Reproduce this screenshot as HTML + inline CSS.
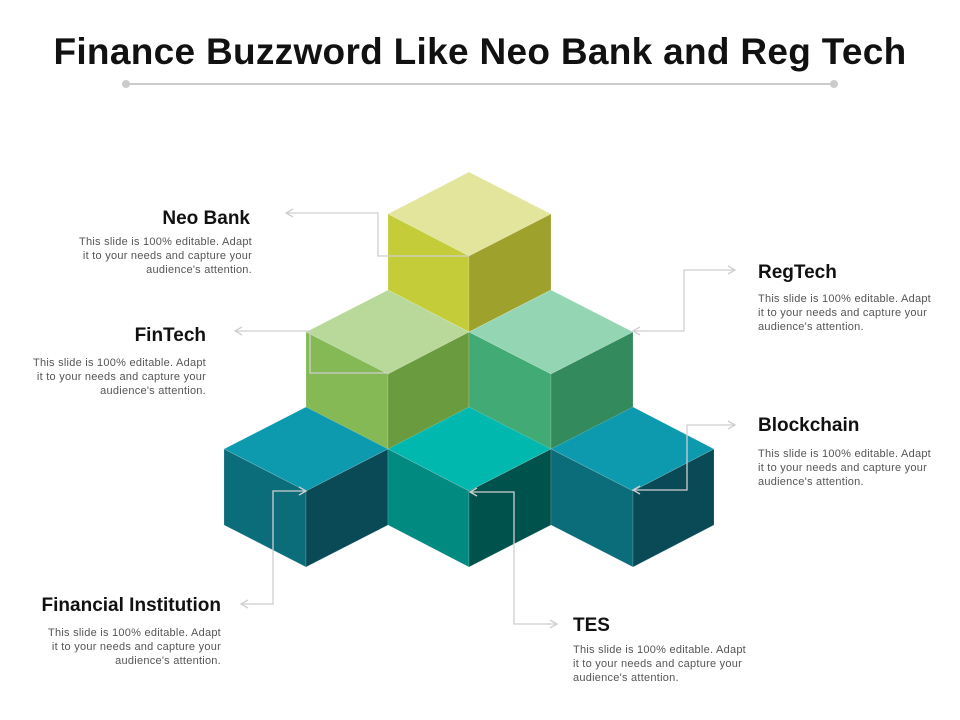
<!DOCTYPE html>
<html><head><meta charset="utf-8"><style>
body{margin:0;width:960px;height:720px;background:#fff;overflow:hidden;position:relative;font-family:"Liberation Sans",Arial,sans-serif}
h1{position:absolute;left:0;top:31px;width:960px;margin:0;text-align:center;font-size:37px;font-weight:bold;color:#111;letter-spacing:0.3px}
.t{position:absolute;font-weight:bold;font-size:19px;color:#111}
.d{position:absolute;font-size:11px;line-height:14px;color:#555;width:182px;letter-spacing:0.25px}
.r{text-align:right}
</style></head><body>
<h1>Finance Buzzword Like Neo Bank and Reg Tech</h1>
<svg width="960" height="720" style="position:absolute;left:0;top:0">
<line x1="126" y1="84" x2="834" y2="84" stroke="#ccc" stroke-width="2"/>
<circle cx="126" cy="84" r="4" fill="#ccc"/><circle cx="834" cy="84" r="4" fill="#ccc"/>
<g stroke="#ffffff" stroke-opacity="0.25" stroke-width="0.6">
<polygon points="469,172 551,214 469,256 388,214" fill="#e3e59c"/>
<polygon points="388,214 469,256 469,332 388,290" fill="#c5cc3a"/>
<polygon points="551,214 469,256 469,332 551,290" fill="#9ea22c"/>
<polygon points="388,290 469,332 388,374 306,332" fill="#b8d99a"/>
<polygon points="306,332 388,374 388,450 306,408" fill="#85b955"/>
<polygon points="469,332 388,374 388,450 469,408" fill="#6a9c3f"/>
<polygon points="551,290 633,332 551,374 469,332" fill="#94d5b4"/>
<polygon points="469,332 551,374 551,450 469,408" fill="#42aa74"/>
<polygon points="633,332 551,374 551,450 633,408" fill="#338a5c"/>
<polygon points="306,407 388,449 306,491 224,449" fill="#0e9aae"/>
<polygon points="224,449 306,491 306,567 224,525" fill="#0b6c7a"/>
<polygon points="388,449 306,491 306,567 388,525" fill="#0a4a56"/>
<polygon points="469,407 551,449 469,491 388,449" fill="#00b8ad"/>
<polygon points="388,449 469,491 469,567 388,525" fill="#008a80"/>
<polygon points="551,449 469,491 469,567 551,525" fill="#00534c"/>
<polygon points="633,407 714,449 633,491 551,449" fill="#0e9aae"/>
<polygon points="551,449 633,491 633,567 551,525" fill="#0b6c7a"/>
<polygon points="714,449 633,491 633,567 714,525" fill="#0a4a56"/>
</g>
<g fill="none" stroke="#cfcfcf" stroke-width="1.3">
<polyline points="286,213 378,213 378,256 469,256"/><polyline points="293,209 286,213 293,217"/>
<polyline points="235,331 310,331 310,373 388,373"/><polyline points="242,327 235,331 242,335"/>
<polyline points="735,270 684,270 684,331 633,331"/><polyline points="728,266 735,270 728,274"/><polyline points="640,327 633,331 640,335"/>
<polyline points="735,425 687,425 687,490 633,490"/><polyline points="728,421 735,425 728,429"/><polyline points="640,486 633,490 640,494"/>
<polyline points="241,604 273,604 273,491 306,491"/><polyline points="248,600 241,604 248,608"/><polyline points="299,487 306,491 299,495"/>
<polyline points="557,624 514,624 514,492 470,492"/><polyline points="550,620 557,624 550,628"/><polyline points="477,488 470,492 477,496"/>
</g>
</svg>
<div class="t r" style="right:710px;top:208px">Neo Bank</div>
<div class="d r" style="right:708px;top:235px">This slide is 100% editable. Adapt it to your needs and capture your audience's attention.</div>
<div class="t r" style="right:754px;top:325px">FinTech</div>
<div class="d r" style="right:754px;top:356px">This slide is 100% editable. Adapt it to your needs and capture your audience's attention.</div>
<div class="t" style="left:758px;top:262px">RegTech</div>
<div class="d" style="left:758px;top:292px">This slide is 100% editable. Adapt it to your needs and capture your audience's attention.</div>
<div class="t" style="left:758px;top:415px">Blockchain</div>
<div class="d" style="left:758px;top:447px">This slide is 100% editable. Adapt it to your needs and capture your audience's attention.</div>
<div class="t r" style="right:739px;top:595px">Financial Institution</div>
<div class="d r" style="right:739px;top:626px">This slide is 100% editable. Adapt it to your needs and capture your audience's attention.</div>
<div class="t" style="left:573px;top:615px">TES</div>
<div class="d" style="left:573px;top:643px">This slide is 100% editable. Adapt it to your needs and capture your audience's attention.</div>
</body></html>
